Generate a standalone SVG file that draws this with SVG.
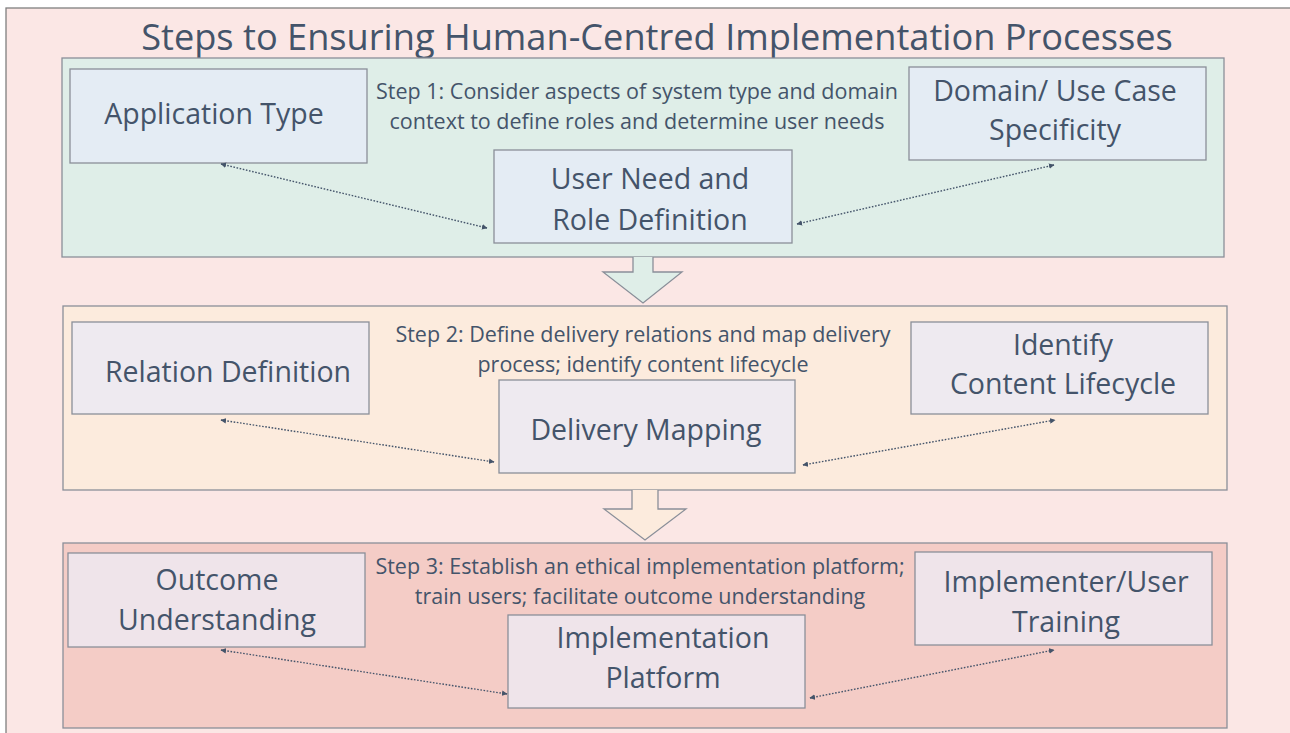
<svg xmlns="http://www.w3.org/2000/svg" width="1290" height="733" viewBox="0 0 1290 733">
<defs>
<style>
text{font-family:"Open Sans","Liberation Sans",sans-serif;fill:#44546A;text-anchor:middle}
.title{font-size:36.2px}
.step{font-size:21.5px}
.lbl{font-size:28.5px}
.panel{stroke:#8A8F99;stroke-width:1.3}
.node{stroke:#8A8F99;stroke-width:1.3}
.n1{fill:#E4ECF4}
.n2{fill:#EEEAF0}
.n3{fill:#EFE4EA}
.conn{fill:none;stroke:#44546A;stroke-width:1.4;stroke-dasharray:1.6 1.6;marker-start:url(#ah);marker-end:url(#ah)}
</style>
<marker id="ah" viewBox="0 0 10 10" refX="9" refY="5" markerWidth="4" markerHeight="4" orient="auto-start-reverse" markerUnits="strokeWidth">
<path d="M0,0 L10,5 L0,10 z" fill="#44546A"/>
</marker>
</defs>
<rect x="0" y="0" width="1290" height="733" fill="#FFFFFF"/>
<rect id="frame" x="6" y="8" width="1290" height="740" fill="#FBE7E5" stroke="#7F7F7F" stroke-width="1.3"/>
<text class="title" x="657" y="50">Steps to Ensuring Human-Centred Implementation Processes</text>

<g id="step1">
<rect class="panel" x="62" y="58" width="1162" height="199" fill="#DFEEE8"/>
<text class="step" x="637" y="99">Step 1: Consider aspects of system type and domain</text>
<text class="step" x="637" y="129">context to define roles and determine user needs</text>
</g>
<g id="arrow1">
<path d="M633,257 L633,272 L603,272 L643,303 L682,272 L653,272 L653,257" fill="#DFEEE8" stroke="#8A8F99" stroke-width="1.3"/>
</g>
<g id="step2">
<rect class="panel" x="63" y="306" width="1164" height="184" fill="#FCEBDD"/>
<text class="step" x="643" y="342">Step 2: Define delivery relations and  map delivery</text>
<text class="step" x="643" y="372">process; identify content lifecycle</text>
</g>
<g id="arrow2">
<path d="M632,490 L632,509 L604,509 L645,540 L686,509 L658,509 L658,490" fill="#FCEBDD" stroke="#8A8F99" stroke-width="1.3"/>
</g>
<g id="step3">
<rect class="panel" x="63" y="543" width="1164" height="185" fill="#F4CCC6"/>
<text class="step" x="640" y="574">Step 3: Establish an ethical implementation platform;</text>
<text class="step" x="640" y="604">train users; facilitate outcome understanding</text>
</g>

<g id="application-type">
<rect class="node n1" x="70" y="69" width="297" height="94"/>
<text class="lbl" x="214" y="124">Application Type</text>
</g>
<g id="domain-use-case">
<rect class="node n1" x="909" y="67" width="297" height="93"/>
<text class="lbl" x="1055" y="101">Domain/ Use Case</text>
<text class="lbl" x="1055" y="140">Specificity</text>
</g>
<g id="user-need">
<rect class="node n1" x="494" y="150" width="298" height="93"/>
<text class="lbl" x="650" y="189">User Need and</text>
<text class="lbl" x="650" y="230">Role Definition</text>
</g>

<g id="relation-definition">
<rect class="node n2" x="72" y="322" width="297" height="92"/>
<text class="lbl" x="228" y="382">Relation Definition</text>
</g>
<g id="content-lifecycle">
<rect class="node n2" x="911" y="322" width="297" height="92"/>
<text class="lbl" x="1063" y="355">Identify</text>
<text class="lbl" x="1063" y="394">Content Lifecycle</text>
</g>
<g id="delivery-mapping">
<rect class="node n2" x="499" y="380" width="296" height="93"/>
<text class="lbl" x="646" y="440">Delivery Mapping</text>
</g>

<g id="outcome-understanding">
<rect class="node n3" x="68" y="553" width="297" height="94"/>
<text class="lbl" x="217" y="590">Outcome</text>
<text class="lbl" x="217" y="630">Understanding</text>
</g>
<g id="implementer-training">
<rect class="node n3" x="915" y="552" width="297" height="93"/>
<text class="lbl" x="1066" y="592">Implementer/User</text>
<text class="lbl" x="1066" y="632">Training</text>
</g>
<g id="implementation-platform">
<rect class="node n3" x="508" y="615" width="297" height="93"/>
<text class="lbl" x="663" y="648">Implementation</text>
<text class="lbl" x="663" y="688">Platform</text>
</g>

<g id="connectors">
<path class="conn" d="M221,164 L487,228"/>
<path class="conn" d="M797,224 L1054,165"/>
<path class="conn" d="M221,420 L494,462"/>
<path class="conn" d="M803,465 L1055,420"/>
<path class="conn" d="M221,650 L507,694"/>
<path class="conn" d="M810,698 L1054,650"/>
</g>
</svg>
